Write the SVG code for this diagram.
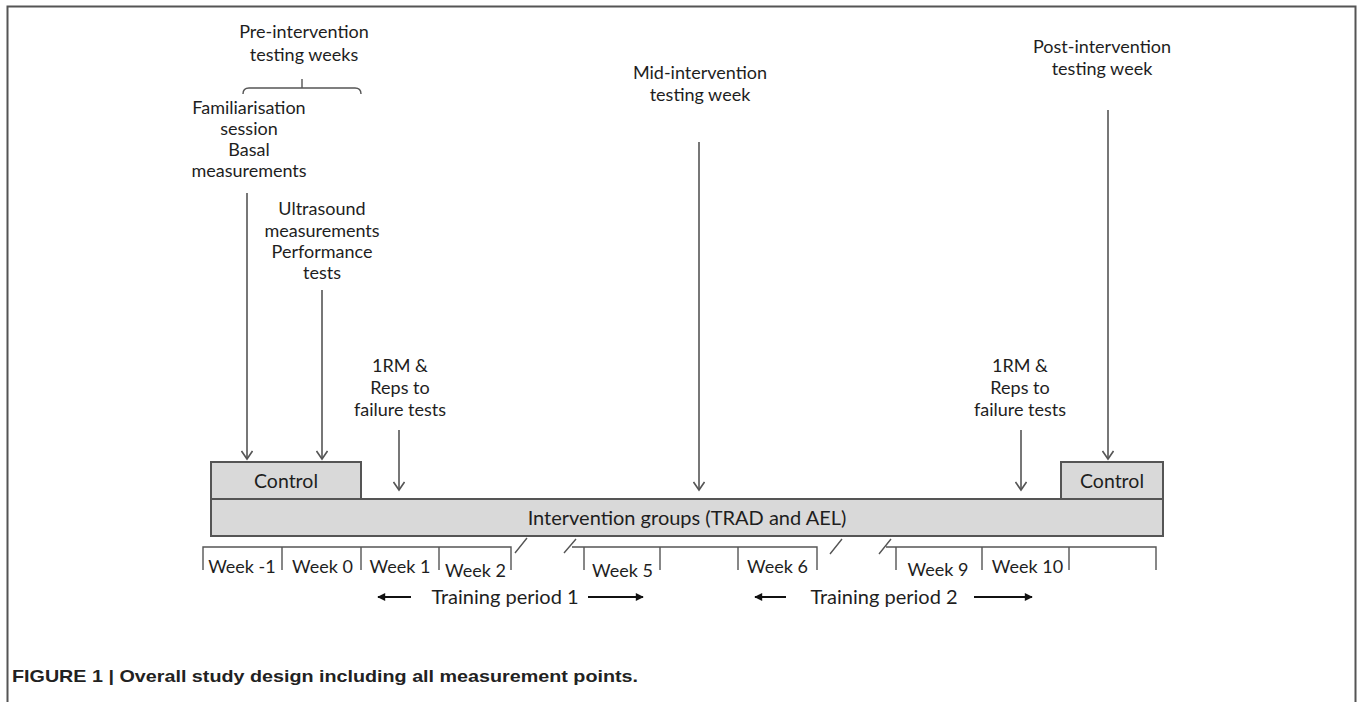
<svg xmlns="http://www.w3.org/2000/svg" width="1357" height="702" viewBox="0 0 1357 702">
<defs>
<style>
.t{font-family:Lato,"Liberation Sans",sans-serif;font-size:18px;fill:#1e1e1e;text-anchor:middle}
.tb{font-family:Lato,"Liberation Sans",sans-serif;font-size:19.5px;fill:#1e1e1e;text-anchor:middle}
.tp{font-family:Lato,"Liberation Sans",sans-serif;font-size:20px;fill:#1e1e1e;text-anchor:middle}
.box{fill:#d9d9d9;stroke:#555;stroke-width:2}
.ln{fill:none;stroke:#555;stroke-width:1.6}
.tk{fill:none;stroke:#555;stroke-width:1.4}
.blk{fill:none;stroke:#111;stroke-width:2}
.cap{font-family:"Liberation Sans Narrow","Liberation Sans",Arial,sans-serif;font-weight:bold;font-size:17px;fill:#222}
</style>
<marker id="v" viewBox="0 0 12 12" refX="9" refY="6" markerWidth="12" markerHeight="12" markerUnits="userSpaceOnUse" orient="auto">
<path d="M1,0.5 L9,6 L1,11.5" fill="none" stroke="#555" stroke-width="1.6"/>
</marker>
<marker id="f" viewBox="0 0 10 10" refX="9" refY="5" markerWidth="9" markerHeight="8" markerUnits="userSpaceOnUse" orient="auto">
<path d="M0,0 L10,5 L0,10 Z" fill="#111"/>
</marker>
</defs>
<rect width="1357" height="702" fill="#fff"/>
<path d="M7.5,702 V6.5 H1355.5 V702" fill="none" stroke="#555" stroke-width="2"/>

<g id="pre-label">
<text class="t" x="304" y="38">Pre-intervention</text>
<text class="t" x="304" y="61">testing weeks</text>
<path class="tk" d="M243,94 Q243,88 249,88 H355 Q361,88 361,94 M302,88 V79"/>
</g>
<g id="familiarisation">
<text class="t" x="249" y="114">Familiarisation</text>
<text class="t" x="249" y="135">session</text>
<text class="t" x="249" y="156">Basal</text>
<text class="t" x="249" y="177">measurements</text>
</g>
<g id="ultrasound">
<text class="t" x="322" y="215">Ultrasound</text>
<text class="t" x="322" y="237">measurements</text>
<text class="t" x="322" y="258">Performance</text>
<text class="t" x="322" y="279">tests</text>
</g>
<g id="rm-left">
<text class="t" x="400" y="372">1RM &amp;</text>
<text class="t" x="400" y="394">Reps to</text>
<text class="t" x="400" y="416">failure tests</text>
</g>
<g id="mid-label">
<text class="t" x="700" y="79">Mid-intervention</text>
<text class="t" x="700" y="101">testing week</text>
</g>
<g id="rm-right">
<text class="t" x="1020" y="372">1RM &amp;</text>
<text class="t" x="1020" y="394">Reps to</text>
<text class="t" x="1020" y="416">failure tests</text>
</g>
<g id="post-label">
<text class="t" x="1102" y="53">Post-intervention</text>
<text class="t" x="1102" y="75">testing week</text>
</g>

<g id="control-left">
<rect class="box" x="211" y="462" width="150" height="37"/>
<text class="tb" x="286" y="488">Control</text>
</g>
<g id="control-right">
<rect class="box" x="1061" y="462" width="102" height="37"/>
<text class="tb" x="1112" y="488">Control</text>
</g>
<g id="intervention">
<rect class="box" x="211" y="499" width="952" height="37"/>
<text class="tb" x="687" y="525" style="font-size:20px">Intervention groups (TRAD and AEL)</text>
</g>

<g id="timeline">
<path class="tk" d="M203,570 V547 H511 V570 M282,547 V570 M361,547 V570 M439,547 V570"/>
<path class="tk" d="M515,553 L527,538 M564,553 L576,539"/>
<path class="tk" d="M572,547 H817 V570 M584,547 V570 M660,547 V570 M738,547 V570"/>
<path class="tk" d="M830,554 L842,539 M879,554 L891,539"/>
<path class="tk" d="M886,547 H1156 V570 M896,547 V570 M982,547 V570 M1069,547 V570"/>
<text class="t" x="242" y="573">Week -1</text>
<text class="t" x="322.5" y="573">Week 0</text>
<text class="t" x="400" y="573">Week 1</text>
<text class="t" x="475.5" y="577">Week 2</text>
<text class="t" x="622.5" y="577">Week 5</text>
<text class="t" x="777.5" y="573">Week 6</text>
<text class="t" x="938" y="576">Week 9</text>
<text class="t" x="1027.5" y="573">Week 10</text>
</g>

<g id="period1">
<text class="tp" x="505" y="604">Training period 1</text>
</g>
<g id="period2">
<text class="tp" x="884" y="604">Training period 2</text>
</g>

<g id="connectors">
<line class="ln" x1="247" y1="193" x2="247" y2="459" marker-end="url(#v)"/>
<line class="ln" x1="322" y1="290" x2="322" y2="459" marker-end="url(#v)"/>
<line class="ln" x1="399" y1="430" x2="399" y2="490" marker-end="url(#v)"/>
<line class="ln" x1="699" y1="142" x2="699" y2="490" marker-end="url(#v)"/>
<line class="ln" x1="1021" y1="430" x2="1021" y2="490" marker-end="url(#v)"/>
<line class="ln" x1="1108" y1="110" x2="1108" y2="459" marker-end="url(#v)"/>
<line class="blk" x1="411" y1="597" x2="378" y2="597" marker-end="url(#f)"/>
<line class="blk" x1="588" y1="597" x2="643" y2="597" marker-end="url(#f)"/>
<line class="blk" x1="786" y1="597" x2="755" y2="597" marker-end="url(#f)"/>
<line class="blk" x1="974" y1="597" x2="1032" y2="597" marker-end="url(#f)"/>
</g>

<text class="cap" x="12" y="682" textLength="626" lengthAdjust="spacingAndGlyphs">FIGURE 1 | Overall study design including all measurement points.</text>
</svg>
